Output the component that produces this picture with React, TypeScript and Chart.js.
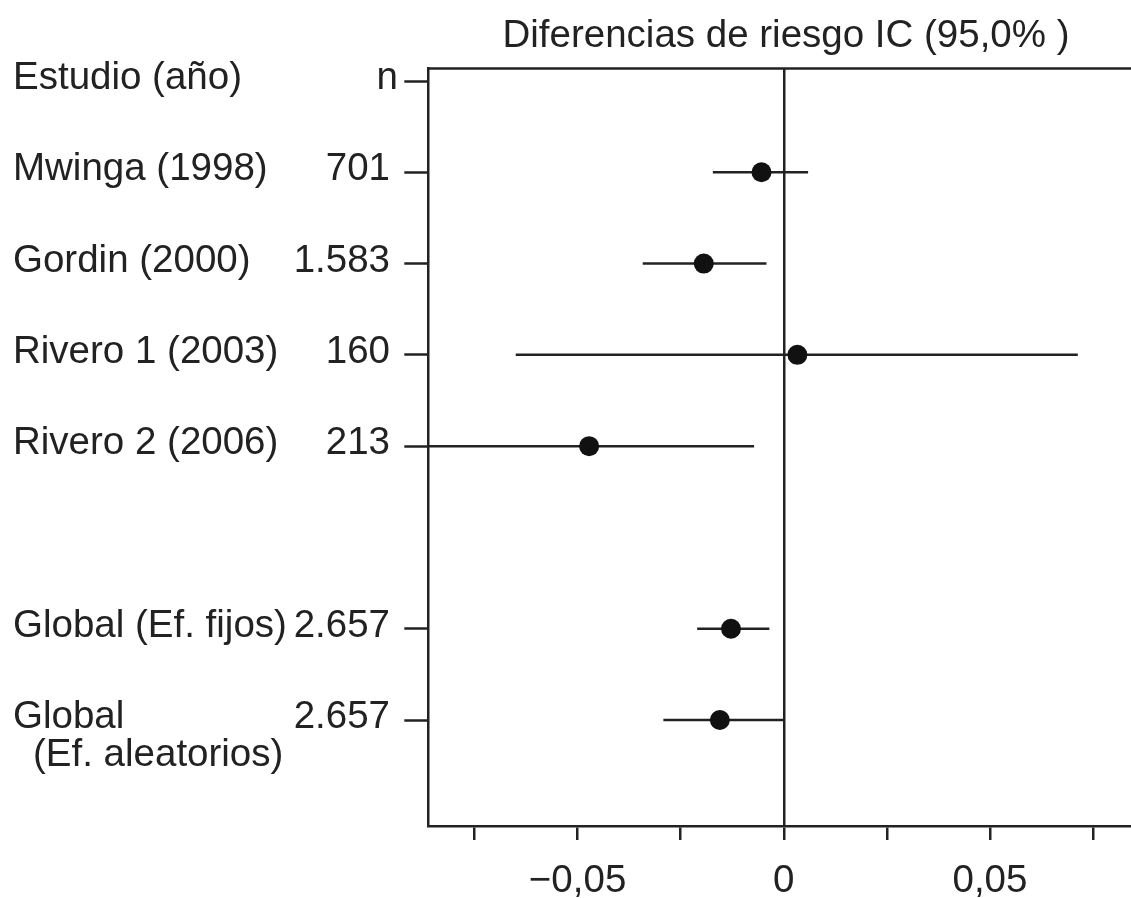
import React, { useEffect, useRef } from "react";
import { Chart, registerables } from "chart.js";

Chart.register(...registerables);

// ---- Data ----
const titleText = "Diferencias de riesgo IC (95,0% )";
const headerStudy = "Estudio (año)";
const headerN = "n";
const studies = [
  "Mwinga (1998)",
  "Gordin (2000)",
  "Rivero 1 (2003)",
  "Rivero 2 (2006)",
  "Global (Ef. fijos)",
  "Global\n (Ef. aleatorios)",
];
const sampleSizes = ["701", "1.583", "160", "213", "2.657", "2.657"];
const rows = [1, 2, 3, 4, 6, 7];
const estimates = [-0.0054, -0.0194, 0.0033, -0.0472, -0.0128, -0.0155];
const lower = [-0.0172, -0.0342, -0.065, -0.087, -0.021, -0.0292];
const upper = [0.0059, -0.0042, 0.0713, -0.0072, -0.0035, 0.0];
const xTicks = [-0.075, -0.05, -0.025, 0, 0.025, 0.05, 0.075];
const xTickLabels = ["", "\u22120,05", "", "0", "", "0,05", ""];
const yTickRows = [0, ...rows];

const FONT = '"Liberation Sans", Arial, Helvetica, sans-serif';
const INK = "#222222";

export default function App() {
  const ref = useRef<HTMLCanvasElement | null>(null);

  useEffect(() => {
    if (!ref.current) return;

    const textPlugin = {
      id: "forestText",
      afterDraw(chart: any) {
        const { ctx, chartArea } = chart;
        const y = chart.scales.y;
        ctx.save();
        // top frame line
        ctx.strokeStyle = INK;
        ctx.lineWidth = 2.5;
        ctx.beginPath();
        ctx.moveTo(chartArea.left - 1.25, chartArea.top);
        ctx.lineTo(chartArea.right + 2, chartArea.top);
        ctx.stroke();

        ctx.fillStyle = INK;
        ctx.font = `38.5px ${FONT}`;
        ctx.textBaseline = "alphabetic";
        // title
        ctx.textAlign = "center";
        ctx.fillText(titleText, 786, 47);
        // headers
        const hy = y.getPixelForValue(0) + 8;
        ctx.textAlign = "left";
        ctx.fillText(headerStudy, 13, hy);
        ctx.textAlign = "right";
        ctx.fillText(headerN, 398, hy);
        // rows
        studies.forEach((s, i) => {
          const py = y.getPixelForValue(rows[i]) + 8;
          const lines = s.split("\n");
          ctx.textAlign = "left";
          lines.forEach((ln, k) => {
            const indent = k > 0 ? 33 : 13;
            ctx.fillText(ln.trim(), indent, py + k * 38);
          });
          ctx.textAlign = "right";
          ctx.fillText(sampleSizes[i], 390, py);
        });
        ctx.restore();
      },
    };

    const ciSets = rows.map((r, i) => ({
      type: "scatter" as const,
      data: [
        { x: lower[i], y: r },
        { x: upper[i], y: r },
      ],
      showLine: true,
      borderColor: INK,
      borderWidth: 2.5,
      pointRadius: 0,
      pointHoverRadius: 0,
    }));

    const chart = new Chart(ref.current, {
      type: "scatter",
      data: {
        datasets: [
          {
            data: rows.map((r, i) => ({ x: estimates[i], y: r })),
            pointRadius: 10,
            pointBackgroundColor: "#111111",
            pointBorderWidth: 0,
            showLine: false,
          } as any,
          ...ciSets,
        ],
      },
      options: {
        responsive: false,
        animation: false,
        events: [],
        layout: { autoPadding: false, padding: { top: 68.5, right: 0, left: 0, bottom: 0 } },
        plugins: {
          legend: { display: false },
          title: { display: false },
          tooltip: { enabled: false },
        },
        scales: {
          x: {
            type: "linear",
            min: -0.0862,
            max: 0.0842,
            afterBuildTicks: (scale: any) => {
              scale.ticks = xTicks.map((v) => ({ value: v }));
            },
            afterFit: (scale: any) => {
              scale.height = 72;
              scale.paddingLeft = 0;
              scale.paddingRight = 0;
            },
            ticks: {
              autoSkip: false,
              maxRotation: 0,
              padding: 18,
              color: INK,
              font: { family: FONT, size: 38.5 },
              callback: (v: any) => {
                const idx = xTicks.findIndex((t) => Math.abs(t - Number(v)) < 1e-9);
                return idx >= 0 ? xTickLabels[idx] : "";
              },
            },
            grid: {
              drawOnChartArea: true,
              drawTicks: true,
              tickLength: 14,
              tickWidth: 2.5,
              tickColor: INK,
              lineWidth: 2.5,
              color: (c: any) => (c.tick && c.tick.value === 0 ? INK : "rgba(0,0,0,0)"),
            },
            border: { display: true, color: INK, width: 2.5 },
          },
          y: {
            type: "linear",
            reverse: true,
            min: -0.137,
            max: 8.161,
            afterBuildTicks: (scale: any) => {
              scale.ticks = yTickRows.map((v) => ({ value: v }));
            },
            afterFit: (scale: any) => {
              scale.width = 428.3;
              scale.paddingTop = 0;
              scale.paddingBottom = 0;
            },
            ticks: { display: false },
            grid: {
              drawOnChartArea: false,
              drawTicks: true,
              tickLength: 24,
              tickWidth: 2.5,
              tickColor: INK,
              color: INK,
            },
            border: { display: true, color: INK, width: 2.5 },
          },
        },
      },
      plugins: [textPlugin],
    });

    return () => chart.destroy();
  }, []);

  return (
    <div style={{ position: "fixed", left: 0, top: 0, width: 1131, height: 898, background: "#fff", overflow: "hidden" }}>
      <canvas ref={ref} width={1131} height={898} />
    </div>
  );
}
